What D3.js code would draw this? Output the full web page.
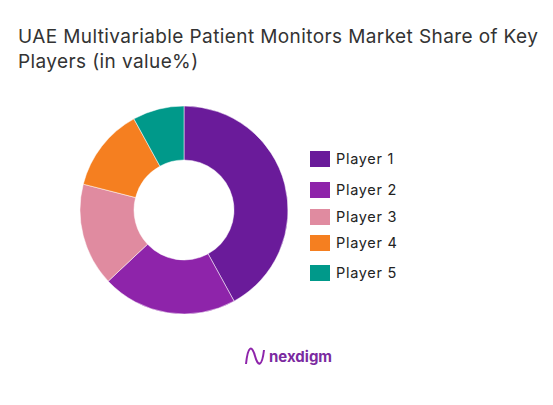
<!DOCTYPE html><html><head><script src="https://cdn.jsdelivr.net/npm/d3@7"></script>
<style>body{margin:0;background:#fff}</style></head><body><svg id="c" width="553" height="405"></svg>
<script>
const categories=["Player 1","Player 2","Player 3","Player 4","Player 5"];
const values=[42,21,16,13,8];
const colors=["#6a1b9a","#8e24aa","#e08ba0","#f57f20","#00998a"];
const legendY=[159,190,217,243,273];
const svg=d3.select("#c");
svg.append("text").attr("x",18).attr("y",43).attr("font-family","Inter, sans-serif").attr("font-size",19).attr("letter-spacing",0.4).attr("fill","#333").text("UAE Multivariable Patient Monitors Market Share of Key");
svg.append("text").attr("x",18).attr("y",68).attr("font-family","Inter, sans-serif").attr("font-size",19).attr("letter-spacing",0.4).attr("fill","#333").text("Players (in value%)");
const g=svg.append("g").attr("transform","translate(184,210)");
const pie=d3.pie().sort(null).value(d=>d)(values);
const arc=d3.arc().innerRadius(50).outerRadius(104);
g.selectAll("path").data(pie).join("path").attr("d",arc).attr("fill",(d,i)=>colors[i]).attr("stroke","#fff").attr("stroke-width",0.5);
const lg=svg.append("g");
categories.forEach((c,i)=>{
 lg.append("rect").attr("x",310).attr("y",legendY[i]-8).attr("width",20).attr("height",16).attr("fill",colors[i]);
 lg.append("text").attr("x",336).attr("y",legendY[i]+5).attr("font-family","Inter, sans-serif").attr("font-size",14.5).attr("letter-spacing",0.7).attr("fill","#222").text(c);
});
svg.append("path").attr("d","M246,364 C248,345 252,345 255,356 C258,367 262,367 264,350").attr("fill","none").attr("stroke","#8e24aa").attr("stroke-width",2);
svg.append("text").attr("x",269).attr("y",362).attr("font-family","Inter, sans-serif").attr("font-weight","bold").attr("font-size",15).attr("fill","#7b2aa0").text("nexdigm");
</script></body></html>
